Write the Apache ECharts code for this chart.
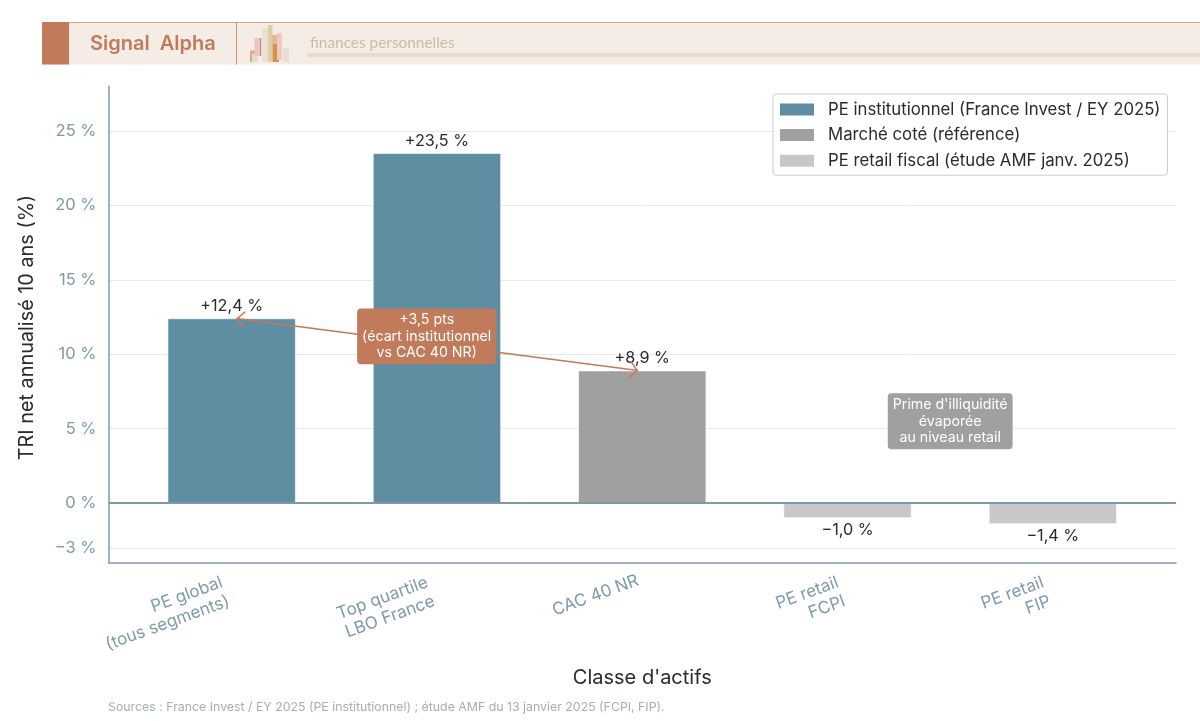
<!DOCTYPE html>
<html lang="fr">
<head>
<meta charset="utf-8">
<title>TRI net annualisé 10 ans par classe d'actifs</title>
<script src="https://cdn.jsdelivr.net/npm/echarts@6/dist/echarts.min.js"></script>
<style>
  html, body { margin: 0; padding: 0; background: #fff; }
  #chart { width: 1200px; height: 721px; }
</style>
</head>
<body>
<div id="chart"></div>
<script>
// Asset classes, in display order
const categories = [
  'PE global\n(tous segments)',
  'Top quartile\nLBO France',
  'CAC 40 NR',
  'PE retail\nFCPI',
  'PE retail\nFIP'
];
const categoryPositions = [0, 1, 2, 3, 4];

// Annualised 10-year net IRR, in %, for each family of assets
const seriesNames = [
  'PE institutionnel (France Invest / EY 2025)',
  'Marché coté (référence)',
  'PE retail fiscal (étude AMF janv. 2025)'
];
const institutionalValues = [[0, 12.4], [1, 23.5]];
const marketValues = [[2, 8.9]];
const retailValues = [[3, -1.0], [4, -1.4]];

const yTicks = [-3, 0, 5, 10, 15, 20, 25];

// Spread arrow between the whole-market PE figure and the listed benchmark
const spreadArrow = [[0.022, 12.4], [1.98, 8.9]];
const spreadNote = { text: '+3,5 pts\n(écart institutionnel\nvs CAC 40 NR)', coord: [0.95, 11.2] };
const retailNote = { text: "Prime d'illiquidité\névaporée\nau niveau retail", coord: [3.5, 5.5] };

const sourceLine = 'Sources : France Invest / EY 2025 (PE institutionnel) ; étude AMF du 13 janvier 2025 (FCPI, FIP).';

const FONT = 'Inter, "Noto Sans", sans-serif';
const COPPER = '#c27b5a';
const AXIS_BLUE = '#7d9aa8';
const TEXT = '#2a2a2a';

// Open chevron whose tip sits at the centre of the symbol box
const CHEVRON = 'path://M0 0 L6 10 L5 11 L0 2.6 L-5 11 L-6 10 Z M0 -11 L0 -11 Z';

const pct = (v, signed) => {
  const s = Math.abs(v).toLocaleString('fr-FR', signed ? { minimumFractionDigits: 1 } : {});
  const sign = v < 0 ? '\u2212' : (signed ? '+' : '');
  return sign + s + '\u00a0%';
};

const valueLabel = (position, distance) => ({
  show: true,
  position,
  distance,
  color: TEXT,
  fontFamily: FONT,
  fontSize: 16.2,
  formatter: p => pct(p.value[1], true)
});

const noteLabel = (color) => ({
  show: true,
  position: 'inside',
  color: '#fff',
  fontFamily: FONT,
  fontSize: 14.2,
  lineHeight: 16.3,
  align: 'center',
  verticalAlign: 'middle',
  backgroundColor: color,
  borderRadius: 4,
  padding: [4, 5, 3, 5],
  formatter: p => p.name
});

const barBase = {
  type: 'bar',
  barWidth: 128,
  barGap: '-100%',
  itemStyle: { borderColor: '#ffffff', borderWidth: 0.6 }
};

// Tick label styles: two-line labels sit a little further along the slant
const tickText = { color: AXIS_BLUE, fontFamily: FONT, fontSize: 17, lineHeight: 20, align: 'right' };
const tickRich = {
  multi: Object.assign({ padding: [0, 14, 0, 0] }, tickText),
  single: Object.assign({ padding: [0, 8, 0, 0] }, tickText)
};

// Skyline glyph of the header strip: [x, y, w, h, colour]
const glyph = [
  [250, 50.5, 7, 11.5, '#e3a67f'],
  [252, 54, 6, 8, '#e2ded0'],
  [254.5, 38, 6.5, 18, '#ebc6bd'],
  [260, 38, 1.2, 18, '#b98d86'],
  [262, 28, 6, 34, '#ebe0d2'],
  [268, 25, 4.5, 37, '#e0cbab'],
  [272, 35, 5, 27, '#dbbd94'],
  [273, 44, 6, 18, '#d8914a'],
  [277, 33, 5, 27, '#efc9c0'],
  [283, 48, 6, 14, '#e6decf']
];

const rect = (x, y, width, height, fill) => ({
  type: 'rect', shape: { x, y, width, height }, style: { fill }, silent: true
});

const chart = echarts.init(document.getElementById('chart'), null, { renderer: 'canvas' });

chart.setOption({
  animation: false,
  backgroundColor: '#ffffff',
  textStyle: { fontFamily: FONT },
  grid: { left: 108.5, right: 24, top: 86.2, bottom: 158.3, containLabel: false },
  legend: {
    left: 773,
    top: 94,
    orient: 'vertical',
    data: seriesNames.map(name => ({ name, icon: 'rect' })),
    itemWidth: 34,
    itemHeight: 12,
    itemGap: 8.6,
    padding: [7, 7, 6, 7],
    borderColor: '#cccccc',
    borderWidth: 1,
    borderRadius: 3,
    backgroundColor: 'rgba(255,255,255,0.9)',
    textStyle: { color: TEXT, fontFamily: FONT, fontSize: 16.75, padding: [0, 0, 0, 9] },
    itemStyle: { borderWidth: 0 }
  },
  xAxis: {
    type: 'value',
    min: -0.6,
    max: 4.6,
    name: "Classe d'actifs",
    nameLocation: 'middle',
    nameGap: 105,
    nameTextStyle: { color: TEXT, fontFamily: FONT, fontSize: 20 },
    splitLine: { show: false },
    axisLine: { show: true, onZero: false, lineStyle: { color: AXIS_BLUE, width: 1.5 } },
    axisTick: { show: false, customValues: categoryPositions },
    axisLabel: {
      customValues: categoryPositions,
      rotate: 20,
      margin: 5,
      align: 'right',
      verticalAlign: 'top',
      hideOverlap: false,
      rich: tickRich,
      formatter: v => {
        const lines = categories[v].split('\n');
        const style = lines.length > 1 ? 'multi' : 'single';
        return lines.map(l => `{${style}|${l}}`).join('\n');
      }
    }
  },
  yAxis: {
    type: 'value',
    min: -4,
    max: 28,
    name: 'TRI net annualisé 10 ans (%)',
    nameLocation: 'middle',
    nameGap: 71.5,
    nameTextStyle: { color: TEXT, fontFamily: FONT, fontSize: 19.85, padding: [0, 6, 0, 0] },
    axisLine: { show: true, onZero: false, lineStyle: { color: AXIS_BLUE, width: 1.5 } },
    axisTick: { show: false, customValues: yTicks },
    splitLine: { show: true, lineStyle: { color: '#e8e8e8', width: 1 } },
    axisLabel: {
      customValues: yTicks,
      color: AXIS_BLUE,
      fontFamily: FONT,
      fontSize: 16.5,
      margin: 12,
      padding: [2, 0, 0, 0],
      formatter: v => pct(v, false)
    }
  },
  series: [
    Object.assign({}, barBase, {
      name: seriesNames[0],
      data: institutionalValues,
      itemStyle: Object.assign({}, barBase.itemStyle, { color: '#5f8da1' }),
      label: valueLabel('top', 4)
    }),
    Object.assign({}, barBase, {
      name: seriesNames[1],
      data: marketValues,
      itemStyle: Object.assign({}, barBase.itemStyle, { color: '#a0a0a0' }),
      label: valueLabel('top', 4)
    }),
    Object.assign({}, barBase, {
      name: seriesNames[2],
      data: retailValues,
      itemStyle: Object.assign({}, barBase.itemStyle, { color: '#c8c8c8' }),
      label: valueLabel('bottom', 4)
    }),
    {
      // Overlay: zero baseline, spread arrow and the two callouts
      type: 'line',
      name: 'annotations',
      data: [],
      z: 10,
      markLine: {
        silent: true,
        animation: false,
        z: 10,
        symbol: ['none', 'none'],
        label: { show: false },
        data: [
          { yAxis: 0, lineStyle: { color: AXIS_BLUE, width: 2, type: 'solid' } },
          [
            {
              coord: spreadArrow[0],
              symbol: CHEVRON,
              symbolSize: 17,
              lineStyle: { color: COPPER, width: 1.5, type: 'solid', curveness: 0 }
            },
            { coord: spreadArrow[1], symbol: CHEVRON, symbolSize: 17 }
          ]
        ]
      },
      markPoint: {
        silent: true,
        animation: false,
        z: 12,
        symbol: 'rect',
        symbolSize: 1,
        itemStyle: { color: 'transparent' },
        data: [
          { name: spreadNote.text, coord: spreadNote.coord, label: noteLabel(COPPER) },
          { name: retailNote.text, coord: retailNote.coord, label: noteLabel('#a0a0a0') }
        ]
      }
    }
  ],
  graphic: [
    {
      type: 'group',
      silent: true,
      children: [
        rect(42, 22, 1158, 42.5, '#f6ece6'),
        rect(42, 22, 1158, 1, '#d9a48c'),
        rect(42, 22, 27, 42.5, COPPER),
        rect(236, 22, 1, 42.5, '#d08f73'),
        ...glyph.map(g => rect(g[0], g[1], g[2], g[3], g[4])),
        rect(307, 53, 893, 4, '#e9dccd'),
        {
          type: 'text',
          x: 90, y: 43.5,
          style: {
            text: 'Signal  Alpha', fill: COPPER, fontFamily: FONT,
            fontSize: 20, fontWeight: 600, verticalAlign: 'middle'
          }
        },
        {
          type: 'text',
          x: 310, y: 43,
          style: {
            text: 'finances personnelles', fill: '#cfbba4', fontFamily: 'Lato, sans-serif',
            fontSize: 15.4, verticalAlign: 'middle'
          }
        },
        {
          type: 'text',
          x: 108, y: 707,
          style: {
            text: sourceLine, fill: '#a3aeb5', fontFamily: FONT,
            fontSize: 12.33, verticalAlign: 'middle'
          }
        }
      ]
    }
  ]
});
</script>
</body>
</html>
